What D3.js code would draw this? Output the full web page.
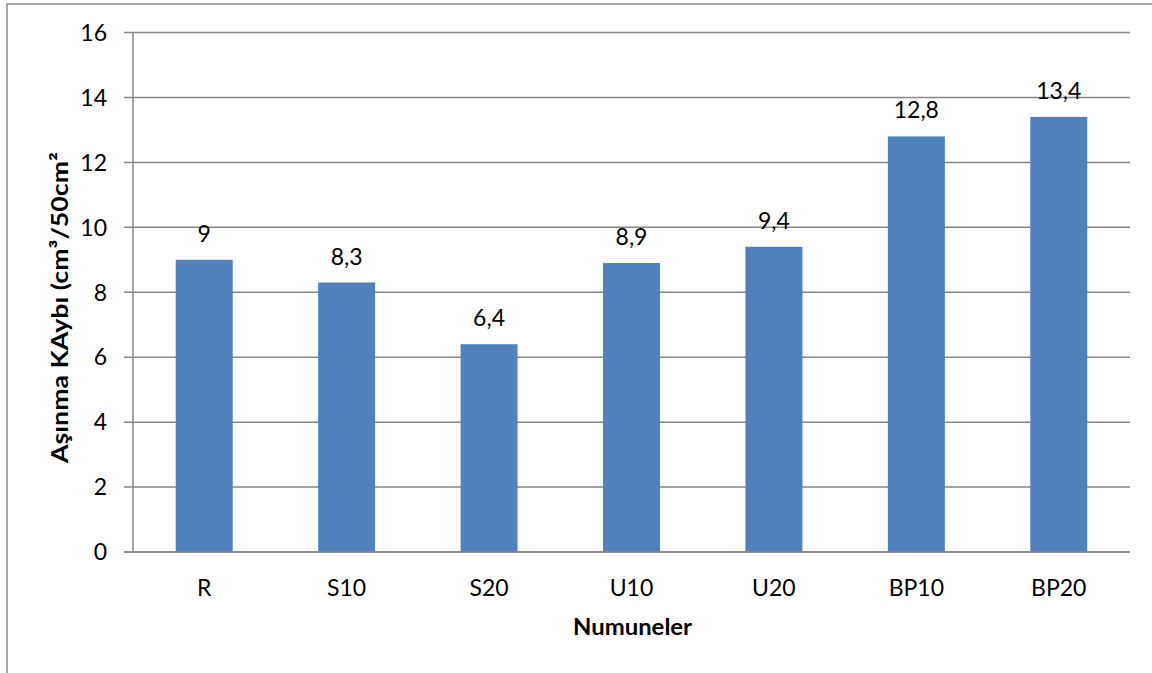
<!DOCTYPE html>
<html><head><meta charset="utf-8">
<script src="https://cdn.jsdelivr.net/npm/d3@7"></script>
<style>body{margin:0;background:#fff}svg{display:block}text{font-family:Lato,"Open Sans",sans-serif}</style>
</head><body>
<svg id="c" width="1152" height="673"></svg>
<script>
const categories = ["R","S10","S20","U10","U20","BP10","BP20"];
const values = [9, 8.3, 6.4, 8.9, 9.4, 12.8, 13.4];
const valueLabels = ["9","8,3","6,4","8,9","9,4","12,8","13,4"];
const yTicks = [0,2,4,6,8,10,12,14,16];
const yTitle = "Aşınma KAybı (cm³/50cm²";
const xTitle = "Numuneler";

const FS = 23;
const svg = d3.select("#c");
const m = {l:133, r:1130, t:32.5, b:552};
svg.append("rect").attr("x",7).attr("y",4).attr("width",1160).attr("height",690)
  .attr("fill","#fff").attr("stroke","#8c8c8c").attr("stroke-width",1.5);

const x = d3.scaleBand().domain(categories).range([m.l,m.r]).paddingInner(0.6).paddingOuter(0.3);
const y = d3.scaleLinear().domain([0,16]).range([m.b,m.t]);

const g = svg.append("g");
g.selectAll(".grid").data(yTicks).join("line")
  .attr("x1",124).attr("x2",m.r).attr("y1",d=>y(d)).attr("y2",d=>y(d))
  .attr("stroke","#878787").attr("stroke-width",1.5);
g.append("line").attr("x1",m.l).attr("x2",m.l).attr("y1",m.t).attr("y2",m.b)
  .attr("stroke","#878787").attr("stroke-width",1.5);

g.selectAll(".yl").data(yTicks).join("text")
  .attr("x",107).attr("y",d=>y(d)).attr("dy","0.36em").attr("text-anchor","end")
  .attr("font-size",FS).attr("fill","#000").text(d=>d);

g.selectAll(".bar").data(values).join("rect")
  .attr("x",(d,i)=>x(categories[i])).attr("width",x.bandwidth())
  .attr("y",d=>y(d)).attr("height",d=>y(0)-y(d)).attr("fill","#4F81BD");

g.append("line").attr("x1",124).attr("x2",m.r).attr("y1",y(0)).attr("y2",y(0))
  .attr("stroke","#878787").attr("stroke-width",1.5);

g.selectAll(".vl").data(values).join("text")
  .attr("x",(d,i)=>x(categories[i])+x.bandwidth()/2).attr("y",d=>y(d)-18)
  .attr("text-anchor","middle").attr("font-size",FS).attr("fill","#000")
  .text((d,i)=>valueLabels[i]);

g.selectAll(".xl").data(categories).join("text")
  .attr("x",d=>x(d)+x.bandwidth()/2).attr("y",596)
  .attr("text-anchor","middle").attr("font-size",FS).attr("fill","#000").text(d=>d);

svg.append("text").attr("x",632.5).attr("y",635).attr("text-anchor","middle")
  .attr("font-size",FS).attr("font-weight","bold")
  .attr("textLength",119).attr("lengthAdjust","spacingAndGlyphs").text(xTitle);

svg.append("text").attr("transform",`translate(68,307.5) rotate(-90)`)
  .attr("text-anchor","middle").attr("font-size",FS).attr("font-weight","bold")
  .attr("textLength",311).attr("lengthAdjust","spacingAndGlyphs").text(yTitle);
</script>
</body></html>
